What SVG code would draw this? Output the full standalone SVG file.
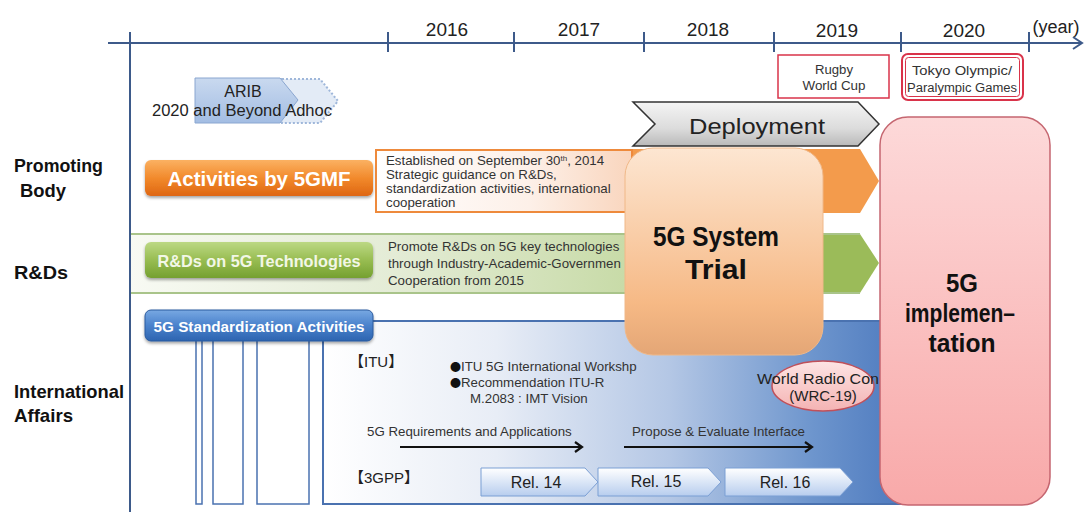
<svg xmlns="http://www.w3.org/2000/svg" width="1088" height="512" viewBox="0 0 1088 512">
  <style>
    text { font-family: "Liberation Sans", Arial, sans-serif; fill: #222; }
    .year { font-size: 19px; text-anchor: middle; }
    .side { font-size: 18px; font-weight: bold; fill: #111; }
    .note { font-size: 13.3px; fill: #333; }
    .dot { font-family: "Noto Sans CJK JP", sans-serif; font-size: 11px; fill: #111; }
    .small { font-size: 12.5px; fill: #333; text-anchor: middle; }
    .btn { font-weight: bold; fill: #fff; text-anchor: middle; }
    .big { font-weight: bold; fill: #111; text-anchor: middle; }
    .rel { font-size: 16px; text-anchor: middle; fill: #222; }
    .cjk { font-family: "Liberation Sans", "Noto Sans CJK JP", sans-serif; font-size: 15px; fill: #222; }
    .axis { stroke: #3d5a8a; stroke-width: 2; fill: none; }
    .bar { fill: #fff; stroke: #4a72b0; stroke-width: 1.5; }
    .relbox { fill: url(#gRel); stroke: #7b9fd4; stroke-width: 1; }
    .flow { stroke: #111; stroke-width: 2; fill: none; marker-end: url(#head); }
  </style>
  <defs>
    <marker id="axisHead" markerWidth="12" markerHeight="14" refX="10" refY="7" orient="auto" markerUnits="userSpaceOnUse">
      <path d="M1,1 L10,7 L1,13" fill="none" stroke="#3d5a8a" stroke-width="2"/>
    </marker>
    <marker id="head" markerWidth="10" markerHeight="12" refX="8" refY="6" orient="auto" markerUnits="userSpaceOnUse">
      <path d="M1,1 L8,6 L1,11" fill="none" stroke="#111" stroke-width="2.2"/>
    </marker>
    <linearGradient id="gOrangeBtn" x1="0" y1="0" x2="0" y2="1">
      <stop offset="0" stop-color="#fbb162"/>
      <stop offset="0.5" stop-color="#f28a2c"/>
      <stop offset="1" stop-color="#de6612"/>
    </linearGradient>
    <linearGradient id="gGreenBtn" x1="0" y1="0" x2="0" y2="1">
      <stop offset="0" stop-color="#bcd884"/>
      <stop offset="0.5" stop-color="#98bd52"/>
      <stop offset="1" stop-color="#75a030"/>
    </linearGradient>
    <linearGradient id="gBlueBtn" x1="0" y1="0" x2="0" y2="1">
      <stop offset="0" stop-color="#78a8e2"/>
      <stop offset="0.5" stop-color="#4a82cc"/>
      <stop offset="1" stop-color="#2d64b0"/>
    </linearGradient>
    <linearGradient id="gGreenBand" x1="130" y1="0" x2="879" y2="0" gradientUnits="userSpaceOnUse">
      <stop offset="0" stop-color="#f8faf3"/>
      <stop offset="0.35" stop-color="#e4ecd6"/>
      <stop offset="0.66" stop-color="#c8dba8"/>
      <stop offset="0.92" stop-color="#9bbb59"/>
    </linearGradient>
    <linearGradient id="gNoteBox" x1="0" y1="0" x2="1" y2="0">
      <stop offset="0" stop-color="#ffffff"/>
      <stop offset="0.6" stop-color="#fdf0e8"/>
      <stop offset="1" stop-color="#f9d5bd"/>
    </linearGradient>
    <linearGradient id="gStd" x1="323" y1="0" x2="900" y2="0" gradientUnits="userSpaceOnUse">
      <stop offset="0" stop-color="#ffffff"/>
      <stop offset="0.3" stop-color="#e8edf6"/>
      <stop offset="0.6" stop-color="#b4c7e5"/>
      <stop offset="0.85" stop-color="#6d95cd"/>
      <stop offset="1" stop-color="#4f7bbf"/>
    </linearGradient>
    <linearGradient id="gRel" x1="0" y1="0" x2="0" y2="1">
      <stop offset="0" stop-color="#ffffff"/>
      <stop offset="1" stop-color="#b7cdee"/>
    </linearGradient>
    <linearGradient id="gArib" x1="0" y1="0" x2="0" y2="1">
      <stop offset="0" stop-color="#c9d9ef"/>
      <stop offset="1" stop-color="#a3bde3"/>
    </linearGradient>
    <linearGradient id="gDeploy" x1="0" y1="0" x2="0" y2="1">
      <stop offset="0" stop-color="#f4f4f4"/>
      <stop offset="0.6" stop-color="#dcdcdc"/>
      <stop offset="1" stop-color="#b9b9b9"/>
    </linearGradient>
    <linearGradient id="gTrial" x1="0" y1="0" x2="0" y2="1">
      <stop offset="0" stop-color="#fde6d2"/>
      <stop offset="0.75" stop-color="#f6b985"/>
      <stop offset="1" stop-color="#e4a676"/>
    </linearGradient>
    <linearGradient id="gImpl" x1="0" y1="0" x2="0" y2="1">
      <stop offset="0" stop-color="#fdd9d9"/>
      <stop offset="1" stop-color="#f8a9a9"/>
    </linearGradient>
    <linearGradient id="gWrc" x1="0" y1="0" x2="0" y2="1">
      <stop offset="0" stop-color="#fde4e4"/>
      <stop offset="1" stop-color="#f4b3b3"/>
    </linearGradient>
    <filter id="shadow" x="-10%" y="-20%" width="120%" height="150%">
      <feDropShadow dx="0" dy="2" stdDeviation="1.5" flood-color="#000" flood-opacity="0.35"/>
    </filter>
  </defs>

  <!-- time axis -->
  <g id="axis">
    <line class="axis" x1="108" y1="43" x2="1082" y2="43" marker-end="url(#axisHead)"/>
    <line class="axis" x1="130" y1="32" x2="130" y2="512"/>
    <line class="axis" x1="388" y1="32" x2="388" y2="52"/>
    <line class="axis" x1="514" y1="32" x2="514" y2="52"/>
    <line class="axis" x1="644" y1="32" x2="644" y2="52"/>
    <line class="axis" x1="774" y1="32" x2="774" y2="52"/>
    <line class="axis" x1="901" y1="32" x2="901" y2="52"/>
    <line class="axis" x1="1029" y1="32" x2="1029" y2="52"/>
    <text class="year" x="447" y="36">2016</text>
    <text class="year" x="579" y="36">2017</text>
    <text class="year" x="708" y="36">2018</text>
    <text class="year" x="837" y="37">2019</text>
    <text class="year" x="964" y="37">2020</text>
    <text class="year" x="1056" y="33" style="font-size:18px">(year)</text>
  </g>

  <!-- row headings -->
  <g id="headings">
    <text class="side" x="14" y="172" style="font-size:19px" textLength="89" lengthAdjust="spacingAndGlyphs">Promoting</text>
    <text class="side" x="20" y="197" style="font-size:19px" textLength="46" lengthAdjust="spacingAndGlyphs">Body</text>
    <text class="side" x="14" y="279" style="font-size:19px" textLength="54" lengthAdjust="spacingAndGlyphs">R&amp;Ds</text>
    <text class="side" x="14" y="398" style="font-size:19px" textLength="110" lengthAdjust="spacingAndGlyphs">International</text>
    <text class="side" x="14" y="422" style="font-size:19px" textLength="59" lengthAdjust="spacingAndGlyphs">Affairs</text>
  </g>

  <!-- events -->
  <g id="rugby">
    <rect x="778" y="55" width="111" height="43" fill="#fff" stroke="#d9334a" stroke-width="1.5"/>
    <text class="small" x="834" y="74" textLength="38" lengthAdjust="spacingAndGlyphs">Rugby</text>
    <text class="small" x="834" y="90" textLength="63" lengthAdjust="spacingAndGlyphs">World Cup</text>
  </g>
  <g id="olympics">
    <rect x="902" y="54" width="121" height="46" rx="6" fill="#fff" stroke="#d9334a" stroke-width="2"/>
    <rect x="905.5" y="57.5" width="114" height="39" rx="3" fill="none" stroke="#d9334a" stroke-width="1"/>
    <text class="small" x="962" y="75" style="font-size:12px" textLength="100" lengthAdjust="spacingAndGlyphs">Tokyo Olympic/</text>
    <text class="small" x="962" y="92" style="font-size:12px" textLength="110" lengthAdjust="spacingAndGlyphs">Paralympic Games</text>
  </g>

  <!-- ARIB adhoc -->
  <g id="arib">
    <polygon points="282,79 320,79 338,101 320,123 282,123" fill="#e3ebf6" stroke="#9fb7da" stroke-width="2" stroke-dasharray="2,2"/>
    <polygon points="195,78 280,78 298,100 280,123 195,123" fill="url(#gArib)" stroke="#8aa6d0" stroke-width="1"/>
    <text x="243" y="97" style="font-size:16px;text-anchor:middle">ARIB</text>
    <text x="242" y="116" style="font-size:16px;text-anchor:middle" textLength="180" lengthAdjust="spacingAndGlyphs">2020 and Beyond Adhoc</text>
  </g>

  <!-- Deployment -->
  <g id="deployment">
    <polygon points="633,102 858,102 879,124 858,146 633,146 655,124" fill="url(#gDeploy)" stroke="#333" stroke-width="1.5"/>
    <text x="757" y="134" style="font-size:22px;text-anchor:middle" textLength="136" lengthAdjust="spacingAndGlyphs">Deployment</text>
  </g>

  <!-- Promoting body row -->
  <g id="promoting">
    <polygon points="375,149 860,149 879,181 860,213 375,213" fill="#f39b4c"/>
    <rect x="376" y="150" width="256" height="62" fill="url(#gNoteBox)" stroke="#ee8a3c" stroke-width="2"/>
    <text class="note" x="386" y="165">Established on September 30<tspan dy="-4" style="font-size:8px">th</tspan><tspan dy="4">, 2014</tspan></text>
    <text class="note" x="386" y="179">Strategic guidance on R&amp;Ds,</text>
    <text class="note" x="386" y="193">standardization activities, international</text>
    <text class="note" x="386" y="207">cooperation</text>
    <rect x="145" y="160" width="228" height="36" rx="6" fill="url(#gOrangeBtn)" filter="url(#shadow)"/>
    <text class="btn" x="259" y="186" style="font-size:20px" textLength="183" lengthAdjust="spacingAndGlyphs">Activities by 5GMF</text>
  </g>

  <!-- R&D row -->
  <g id="rnd">
    <polygon points="131,234 860,234 879,263 860,293 131,293" fill="url(#gGreenBand)"/>
    <line x1="131" y1="234" x2="860" y2="234" stroke="#a9c48a" stroke-width="2"/>
    <line x1="131" y1="293" x2="860" y2="293" stroke="#a9c48a" stroke-width="2"/>
    <text class="note" x="388" y="251">Promote R&amp;Ds on 5G key technologies</text>
    <text class="note" x="388" y="268">through Industry-Academic-Governmen</text>
    <text class="note" x="388" y="285">Cooperation from 2015</text>
    <rect x="145" y="242" width="228" height="36" rx="6" fill="url(#gGreenBtn)" filter="url(#shadow)"/>
    <text class="btn" x="259" y="267" style="font-size:17px;fill:#f2f7e6" textLength="203" lengthAdjust="spacingAndGlyphs">R&amp;Ds on 5G Technologies</text>
  </g>

  <!-- Standardization row -->
  <g id="standardization">
    <rect x="323" y="321" width="577" height="183" fill="url(#gStd)" stroke="#4a72b0" stroke-width="2"/>
    <rect class="bar" x="196" y="338" width="6" height="166"/>
    <rect class="bar" x="213" y="338" width="30" height="166"/>
    <rect class="bar" x="257" y="338" width="52" height="166"/>
    <rect x="145" y="310" width="228" height="31" rx="6" fill="url(#gBlueBtn)" stroke="#2a5a9e" stroke-width="1" filter="url(#shadow)"/>
    <text class="btn" x="259" y="332" style="font-size:15.5px" textLength="211" lengthAdjust="spacingAndGlyphs">5G Standardization Activities</text>

    <text class="cjk" x="349" y="367">【ITU】</text>
    <text class="note" x="450" y="371"><tspan class="dot">●</tspan>ITU 5G International Workshp</text>
    <text class="note" x="450" y="387"><tspan class="dot">●</tspan>Recommendation ITU-R</text>
    <text class="note" x="470" y="403">M.2083 : IMT Vision</text>

    <text class="note" x="367" y="436">5G Requirements and Applications</text>
    <text class="note" x="632" y="436">Propose &amp; Evaluate Interface</text>

    <text class="cjk" x="349" y="483">【3GPP】</text>
  </g>

  <!-- 3GPP releases -->
  <g id="rel14">
    <polygon class="relbox" points="481,468 585,468 598,482 585,496 481,496"/>
    <text class="rel" x="536" y="488">Rel. 14</text>
  </g>
  <g id="rel15">
    <polygon class="relbox" points="598,468 708,468 721,482 708,496 598,496"/>
    <text class="rel" x="656" y="487">Rel. 15</text>
  </g>
  <g id="rel16">
    <polygon class="relbox" points="725,468 840,468 853,482 840,496 725,496"/>
    <text class="rel" x="785" y="488">Rel. 16</text>
  </g>

  <!-- WRC-19 -->
  <g id="wrc">
    <ellipse cx="823" cy="386" rx="51" ry="25" fill="url(#gWrc)" stroke="#c0505a" stroke-width="1.5"/>
    <text x="757" y="384" style="font-size:15px" textLength="122" lengthAdjust="spacingAndGlyphs">World Radio Con</text>
    <text x="823" y="401" style="font-size:15px;text-anchor:middle">(WRC-19)</text>
  </g>

  <!-- flow arrows -->
  <g id="connectors">
    <line class="flow" x1="400" y1="447" x2="582" y2="447"/>
    <line class="flow" x1="624" y1="447" x2="812" y2="447"/>
  </g>

  <!-- 5G System Trial -->
  <g id="trial">
    <rect x="625" y="148" width="198" height="207" rx="28" fill="url(#gTrial)" stroke="#f0b888" stroke-width="1"/>
    <text class="big" x="716" y="246" style="font-size:27px" textLength="126" lengthAdjust="spacingAndGlyphs">5G System</text>
    <text class="big" x="716" y="279" style="font-size:27px" textLength="62" lengthAdjust="spacingAndGlyphs">Trial</text>
  </g>

  <!-- 5G implementation -->
  <g id="implementation">
    <rect x="880" y="117" width="170" height="388" rx="28" fill="url(#gImpl)" stroke="#c56670" stroke-width="1.5"/>
    <text class="big" x="962" y="292" style="font-size:25px" textLength="32" lengthAdjust="spacingAndGlyphs">5G</text>
    <text class="big" x="960" y="322" style="font-size:25px" textLength="110" lengthAdjust="spacingAndGlyphs">implemen–</text>
    <text class="big" x="962" y="352" style="font-size:25px" textLength="67" lengthAdjust="spacingAndGlyphs">tation</text>
  </g>
</svg>
